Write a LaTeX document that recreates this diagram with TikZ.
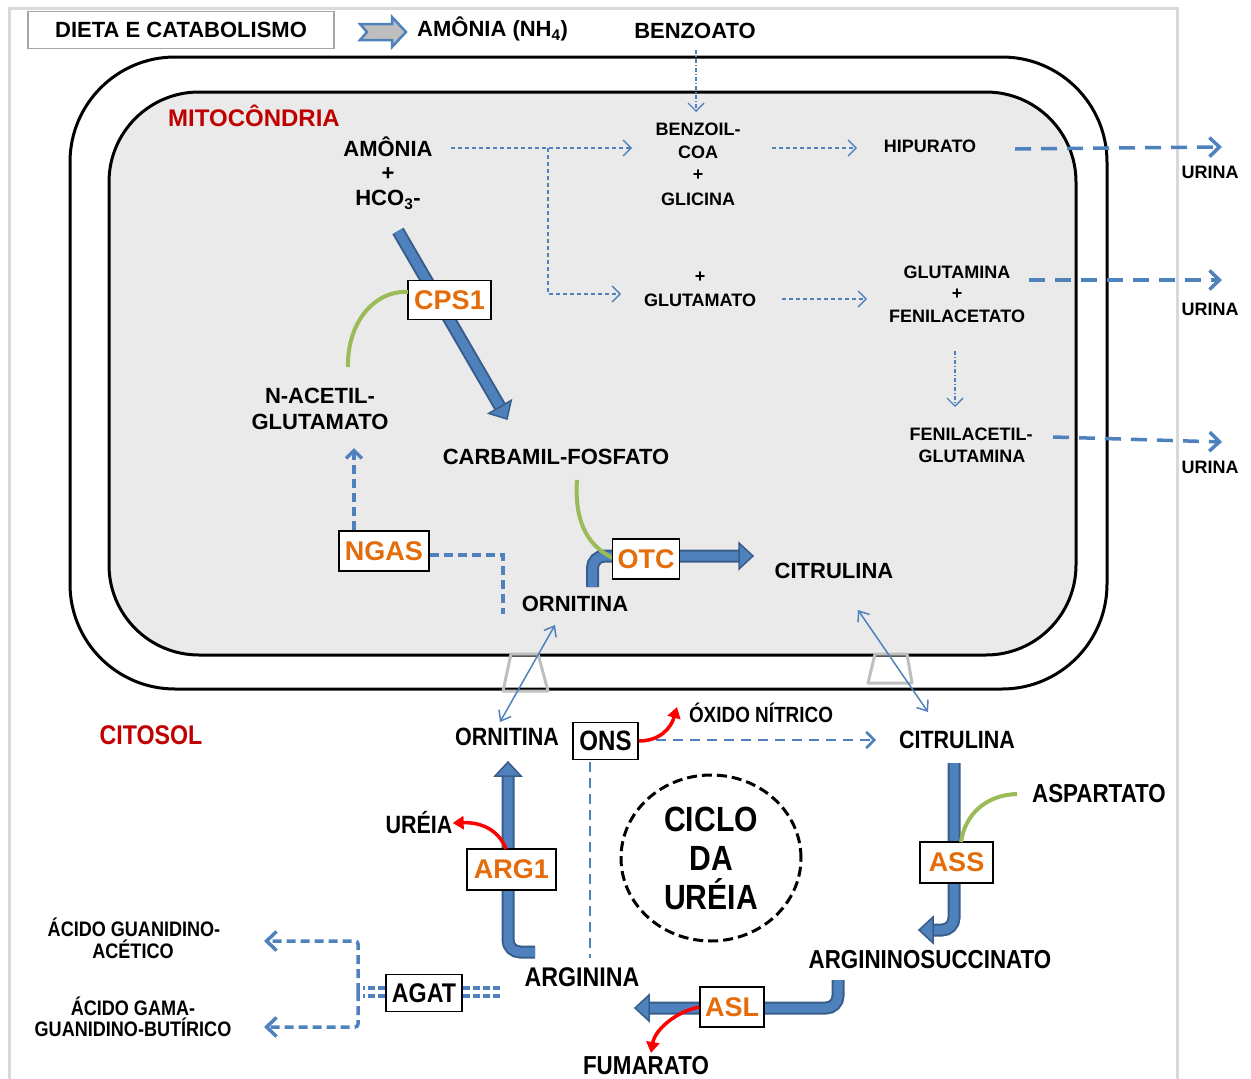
\documentclass[tikz,border=0pt]{standalone}
\usepackage{fontspec}
\setmainfont{Liberation Sans}
\newfontfamily\narfont{Liberation Sans}[FakeStretch=0.86]
\usetikzlibrary{arrows.meta,shapes.geometric}
\definecolor{ablue}{HTML}{4F81BD}
\definecolor{adark}{HTML}{385D8A}
\definecolor{eorange}{HTML}{E46C0A}
\definecolor{tred}{HTML}{C00000}
\definecolor{agreen}{HTML}{9BBB59}
\definecolor{mfill}{HTML}{EAEAEA}
\definecolor{fgrey}{HTML}{D9D9D9}
\definecolor{tgrey}{HTML}{BFBFBF}
\newcommand{\fsz}[1]{\fontsize{#1}{#1}\selectfont}
\newcommand{\blockpath}[1]{\draw[adark,line width=13pt] #1;\draw[ablue,line width=9pt] #1;}
\tikzset{
 lbl/.style={inner sep=0pt,font=\bfseries\fsz{22}},
 sml/.style={inner sep=0pt,font=\bfseries\fsz{18}},
 cyt/.style={inner sep=0pt,font=\narfont\bfseries\fsz{25}},
 enz/.style={draw=black,line width=1.6pt,fill=white,inner sep=0pt,text=eorange,font=\bfseries\fsz{27}},
 enzk/.style={draw=black,line width=1.6pt,fill=white,inner sep=0pt,text=black,font=\narfont\bfseries\fsz{28}},
 tdash/.style={ablue,line width=1.4pt,dash pattern=on 4pt off 3pt},
 ddot/.style={ablue,line width=1.4pt,dash pattern=on 4pt off 2pt on 1pt off 2pt},
 mdash/.style={ablue,line width=3.5pt,dash pattern=on 9pt off 5pt},
 udash/.style={ablue,line width=3.5pt,dash pattern=on 16pt off 10pt},
 dbl/.style={ablue,line width=3.2pt,dash pattern=on 7pt off 3pt},
 barb/.style={-{Straight Barb[length=8pt,width=16pt]}},
 barbL/.style={-{Straight Barb[length=10pt,width=19pt]}},
 redarr/.style={red,line width=3.5pt,-{Triangle[length=11pt,width=13pt]}},
 garc/.style={agreen,line width=4pt},
 thinarr/.style={ablue,line width=1.5pt,{Straight Barb[length=9pt,width=14pt]}-{Straight Barb[length=9pt,width=14pt]}},
 bhead/.pic={\filldraw[fill=ablue,draw=adark,line width=1.5pt,line join=miter] (0,0) -- (-14,13) -- (-14,-13) -- cycle;}
}
\begin{document}
\begin{tikzpicture}[x=1pt,y=-1pt]
\useasboundingbox (0,0) rectangle (1251,1079);
% outer frame
\draw[fgrey,line width=3pt] (9,8) rectangle (1177,1100);
% header
\node[draw=gray!70,line width=1.5pt,minimum width=306,minimum height=37,inner sep=0pt,font=\bfseries\fsz{22}] (dieta) at (181,30) {DIETA E CATABOLISMO};
\filldraw[fill=tgrey,draw=ablue,line width=2.5pt,line join=miter] (360,24) -- (392,24) -- (392,17) -- (406,32) -- (392,47) -- (392,40) -- (360,40) -- (367,32) -- cycle;
\node[lbl,anchor=west] (amnh) at (417,29) {AMÔNIA (NH\textsubscript{4})};
\node[lbl] (benzoato) at (695,31) {BENZOATO};
% mitochondria
\draw[line width=3pt,rounded corners=105pt] (70,57) rectangle (1107,689);
\filldraw[fill=mfill,line width=3pt,rounded corners=90pt] (109,92) rectangle (1076,655);
\draw[tgrey,line width=3pt,line join=round] (503,691) -- (511,654) -- (538,654) -- (548,691) -- cycle;
\draw[tgrey,line width=3pt,line join=round] (868,683) -- (875,654) -- (907,654) -- (912,683) -- cycle;
\node[inner sep=0pt,font=\bfseries\fsz{24},text=tred] (mito) at (254,116) {MITOCÔNDRIA};
\node[lbl] (amonia) at (388,147) {AMÔNIA};
\node[lbl] (plus1) at (388,174) {+};
\node[lbl] (hco) at (388,200) {HCO\textsubscript{3}-};
\node[sml] (benzoil) at (698,129) {BENZOIL-};
\node[sml] (coa) at (698,152) {COA};
\node[sml] (plus2) at (698,175) {+};
\node[sml] (glicina) at (698,199) {GLICINA};
\node[sml] (hipurato) at (930,146) {HIPURATO};
\node[sml] (plus3) at (700,277) {+};
\node[sml] (glutamato) at (700,300) {GLUTAMATO};
\node[sml] (glutamina) at (957,272) {GLUTAMINA};
\node[sml] (plus4) at (957,294) {+};
\node[sml] (fenilacetato) at (957,316) {FENILACETATO};
\node[sml] (fenil1) at (971,434) {FENILACETIL-};
\node[sml] (fenil2) at (972,456) {GLUTAMINA};
\node[sml] (ur1) at (1210,172) {URINA};
\node[sml] (ur2) at (1210,309) {URINA};
\node[sml] (ur3) at (1210,467) {URINA};
% thin dashed connectors
\coordinate (bzS) at (696,50); \coordinate (bzE) at (696,112);
\draw[ddot,barb] (bzS) -- (bzE);
\coordinate (amS) at (451,148); \coordinate (amE) at (632,148); \coordinate (brA) at (548,148); \coordinate (gluW) at (621,294);
\draw[tdash,barb] (amS) -- (amE);
\draw[tdash,barb] (brA) |- (gluW);
\coordinate (hiS) at (772,148); \coordinate (hiE) at (857,148);
\draw[tdash,barb] (hiS) -- (hiE);
\coordinate (glS) at (782,299); \coordinate (glE) at (867,299);
\draw[tdash,barb] (glS) -- (glE);
\coordinate (feS) at (955,351); \coordinate (feE) at (955,407);
\draw[ddot,barb] (feS) -- (feE);
% urine arrows
\coordinate (u1S) at (1015,149); \coordinate (u1E) at (1222,147);
\coordinate (u2S) at (1029,280); \coordinate (u2E) at (1222,280);
\coordinate (u3S) at (1053,437); \coordinate (u3E) at (1222,442);
\draw[udash,barbL] (u1S) -- (u1E);
\draw[udash,barbL] (u2S) -- (u2E);
\draw[udash,barbL] (u3S) -- (u3E);
% CPS1
\coordinate (cpsS) at (398,231); \coordinate (cpsB) at (500.5,407.5); \coordinate (cpsT) at (507,419);
\blockpath{(cpsS) -- (cpsB)}
\pic[rotate=-59.9] at (cpsT) {bhead};
\node[enz,minimum width=83,minimum height=39] (cps) at (449.5,300) {CPS1};
\coordinate (g1S) at (408,292); \coordinate (g1E) at (348,367);
\draw[garc] (g1S) .. controls (375,290) and (347,322) .. (g1E);
\node[lbl] (nac1) at (320,396) {N-ACETIL-};
\node[lbl] (nac2) at (320,422) {GLUTAMATO};
\node[lbl] (carb) at (556,457) {CARBAMIL-FOSFATO};
% NGAS
\node[enz,minimum width=90,minimum height=40] (ngas) at (384,551) {NGAS};
\coordinate (ngT) at (354,448);
\draw[mdash,barb] (ngas.north -| ngT) -- (ngT);
\coordinate (ngC) at (503,555); \coordinate (ngE) at (503,614);
\draw[mdash] (ngas.east |- ngC) -- (ngC) -- (ngE);
% OTC
\coordinate (otS) at (592.5,587); \coordinate (otK) at (592.5,556); \coordinate (otB) at (741,556); \coordinate (otT) at (753,556);
\blockpath{(otS) [rounded corners=12pt] -- (otK) -- (otB)}
\pic at (otT) {bhead};
\coordinate (g2S) at (577,480); \coordinate (g2E) at (613,558);
\draw[garc] (g2S) .. controls (574,525) and (590,547) .. (g2E);
\node[enz,minimum width=67,minimum height=40] (otc) at (646,559) {OTC};
\node[lbl] (citm) at (834,571) {CITRULINA};
\node[lbl] (ornm) at (575,604) {ORNITINA};
% cytosol
\node[inner sep=0pt,font=\narfont\bfseries\fsz{27},text=tred] (citosol) at (151,735) {CITOSOL};
\node[cyt] (ornc) at (507,737) {ORNITINA};
\node[cyt] (citc) at (957,740) {CITRULINA};
\coordinate (t1A) at (555,625); \coordinate (t1B) at (500,722);
\draw[thinarr] (t1A) -- (t1B);
\coordinate (t2A) at (858,610); \coordinate (t2B) at (928,712);
\draw[thinarr] (t2A) -- (t2B);
% ONS
\coordinate (onD) at (590,958);
\draw[ablue,line width=2pt,dash pattern=on 10pt off 6pt] (590,762) -- (onD);
\node[enzk,minimum width=65,minimum height=37] (ons) at (605.5,741) {ONS};
\node[inner sep=0pt,font=\narfont\bfseries\fsz{22}] (oxido) at (761,713) {ÓXIDO NÍTRICO};
\coordinate (onE) at (876,740);
\draw[ablue,line width=2.5pt,dash pattern=on 10pt off 7pt,barb] (ons.east |- onE) -- (onE);
\coordinate (onR) at (677,707);
\draw[redarr] (ons.east) .. controls (660,741) and (671,728) .. (onR);
% cycle
\node[ellipse,draw,line width=3pt,dash pattern=on 10pt off 5pt,minimum width=180,minimum height=166,inner sep=0pt,align=center,font=\narfont\bfseries\fontsize{35}{39}\selectfont] (ciclo) at (711,858) {CICLO\\DA\\URÉIA};
% ARG1
\coordinate (agS) at (535,952); \coordinate (agK) at (508,952); \coordinate (agB) at (508,775); \coordinate (agT) at (508,762);
\blockpath{(agS) [rounded corners=12pt] -- (agK) -- (agB)}
\pic[rotate=90] at (agT) {bhead};
\node[enz,minimum width=89,minimum height=41] (arg1) at (511.5,869.5) {ARG1};
\node[cyt] (ureia) at (419,823) {URÉIA};
\coordinate (urS) at (506,849);
\draw[redarr] (urS) .. controls (500,833) and (485,822) .. (ureia.east);
% ASS
\coordinate (asS) at (954,763); \coordinate (asK) at (954,930); \coordinate (asB) at (932,930); \coordinate (asT) at (919,930);
\blockpath{(asS) [rounded corners=12pt] -- (asK) -- (asB)}
\pic[rotate=180] at (asT) {bhead};
\node[enz,minimum width=73,minimum height=41] (ass) at (956.5,862.5) {ASS};
\node[cyt,font=\narfont\bfseries\fsz{26}] (aspartato) at (1099,794) {ASPARTATO};
\coordinate (g3S) at (961,842); \coordinate (g3E) at (1017,794);
\draw[garc] (g3S) .. controls (965,815) and (985,795) .. (g3E);
\node[cyt,font=\narfont\bfseries\fsz{26}] (argsuc) at (930,960) {ARGININOSUCCINATO};
% ASL
\coordinate (alS) at (838,980); \coordinate (alK) at (838,1008); \coordinate (alB) at (648,1008); \coordinate (alT) at (635,1008);
\blockpath{(alS) [rounded corners=12pt] -- (alK) -- (alB)}
\pic[rotate=180] at (alT) {bhead};
\node[enz,minimum width=64,minimum height=40] (asl) at (732,1007) {ASL};
\node[cyt,font=\narfont\bfseries\fsz{26}] (fumarato) at (646,1066) {FUMARATO};
\coordinate (fuT) at (651,1053);
\draw[redarr] (asl.west) .. controls (675,1012) and (655,1030) .. (fuT);
\node[cyt,font=\narfont\bfseries\fsz{27}] (arginina) at (582,977) {ARGININA};
% AGAT
\node[enzk,minimum width=76,minimum height=37,font=\narfont\bfseries\fsz{27}] (agat) at (424,993) {AGAT};
\coordinate (dlL) at (363,988); \coordinate (dlL2) at (363,996);
\coordinate (drR) at (500,988); \coordinate (drR2) at (500,996);
\draw[dbl] (agat.west |- dlL) -- (dlL);
\draw[dbl] (agat.west |- dlL2) -- (dlL2);
\draw[dbl] (agat.east |- drR) -- (drR);
\draw[dbl] (agat.east |- drR2) -- (drR2);
\coordinate (bj) at (358,992); \coordinate (tg1) at (264,941); \coordinate (tg2) at (264,1027);
\draw[mdash,barbL,rounded corners=3pt] (bj) |- (tg1);
\draw[mdash,barbL,rounded corners=3pt] (bj) |- (tg2);
\node[inner sep=0pt,font=\narfont\bfseries\fsz{21}] (ac1) at (134,927) {ÁCIDO GUANIDINO-};
\node[inner sep=0pt,font=\narfont\bfseries\fsz{21}] (ac2) at (133,949) {ACÉTICO};
\node[inner sep=0pt,font=\narfont\bfseries\fsz{21}] (ac3) at (133,1006) {ÁCIDO GAMA-};
\node[inner sep=0pt,font=\narfont\bfseries\fsz{21}] (ac4) at (133,1027) {GUANIDINO-BUTÍRICO};
\end{tikzpicture}
\end{document}
